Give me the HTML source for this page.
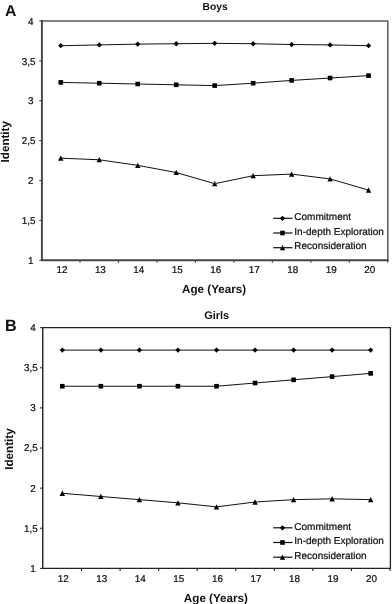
<!DOCTYPE html>
<html><head><meta charset="utf-8"><title>Chart</title>
<style>
html,body{margin:0;padding:0;background:#fff;}
svg{display:block;will-change:transform}
text{font-family:"Liberation Sans",sans-serif;fill:#111;text-rendering:geometricPrecision}
.t{font-size:9.9px;stroke:#111;stroke-width:0.22px}
.lg{font-size:10.02px;stroke:#111;stroke-width:0.22px}
.b{font-size:11.65px;font-weight:bold}
.bt{font-size:10.3px;font-weight:bold}
.L{font-size:15.8px;font-weight:bold}
</style></head><body>
<svg width="392" height="604" viewBox="0 0 392 604">
<rect width="392" height="604" fill="#fff"/>
<path d="M41.9,21.0H387.8V260.25" fill="none" stroke="#5a5a5a" stroke-width="1.5"/>
<path d="M41.9,20.05V260.25H388.55" fill="none" stroke="#444" stroke-width="1.9"/>
<line x1="39.3" y1="260.25" x2="41.9" y2="260.25" stroke="#444" stroke-width="1.1"/>
<text x="33.5" y="263.95" text-anchor="end" class="t">1</text>
<line x1="39.3" y1="220.375" x2="41.9" y2="220.375" stroke="#444" stroke-width="1.1"/>
<text x="35.6" y="224.07" text-anchor="end" class="t">1,5</text>
<line x1="39.3" y1="180.5" x2="41.9" y2="180.5" stroke="#444" stroke-width="1.1"/>
<text x="33.5" y="184.20" text-anchor="end" class="t">2</text>
<line x1="39.3" y1="140.625" x2="41.9" y2="140.625" stroke="#444" stroke-width="1.1"/>
<text x="35.6" y="144.32" text-anchor="end" class="t">2,5</text>
<line x1="39.3" y1="100.75" x2="41.9" y2="100.75" stroke="#444" stroke-width="1.1"/>
<text x="33.5" y="104.45" text-anchor="end" class="t">3</text>
<line x1="39.3" y1="60.875" x2="41.9" y2="60.875" stroke="#444" stroke-width="1.1"/>
<text x="35.6" y="64.58" text-anchor="end" class="t">3,5</text>
<line x1="39.3" y1="21.0" x2="41.9" y2="21.0" stroke="#444" stroke-width="1.1"/>
<text x="33.5" y="24.70" text-anchor="end" class="t">4</text>
<line x1="80.03" y1="260.25" x2="80.03" y2="262.85" stroke="#444" stroke-width="1.1"/>
<line x1="118.50" y1="260.25" x2="118.50" y2="262.85" stroke="#444" stroke-width="1.1"/>
<line x1="156.97" y1="260.25" x2="156.97" y2="262.85" stroke="#444" stroke-width="1.1"/>
<line x1="195.44" y1="260.25" x2="195.44" y2="262.85" stroke="#444" stroke-width="1.1"/>
<line x1="233.92" y1="260.25" x2="233.92" y2="262.85" stroke="#444" stroke-width="1.1"/>
<line x1="272.38" y1="260.25" x2="272.38" y2="262.85" stroke="#444" stroke-width="1.1"/>
<line x1="310.86" y1="260.25" x2="310.86" y2="262.85" stroke="#444" stroke-width="1.1"/>
<line x1="349.32" y1="260.25" x2="349.32" y2="262.85" stroke="#444" stroke-width="1.1"/>
<line x1="387.80" y1="260.25" x2="387.80" y2="262.85" stroke="#444" stroke-width="1.1"/>
<text x="61.90" y="273.45" text-anchor="middle" class="t">12</text>
<text x="100.37" y="273.45" text-anchor="middle" class="t">13</text>
<text x="138.84" y="273.45" text-anchor="middle" class="t">14</text>
<text x="177.31" y="273.45" text-anchor="middle" class="t">15</text>
<text x="215.78" y="273.45" text-anchor="middle" class="t">16</text>
<text x="254.25" y="273.45" text-anchor="middle" class="t">17</text>
<text x="292.72" y="273.45" text-anchor="middle" class="t">18</text>
<text x="331.19" y="273.45" text-anchor="middle" class="t">19</text>
<text x="369.66" y="273.45" text-anchor="middle" class="t">20</text>
<polyline points="60.80,45.72 99.27,44.92 137.74,44.13 176.21,43.73 214.68,43.33 253.15,43.73 291.62,44.53 330.09,44.92 368.56,45.72" fill="none" stroke="#111" stroke-width="1"/>
<path d="M60.80,43.07L63.45,45.72L60.80,48.37L58.15,45.72Z" fill="#000"/>
<path d="M99.27,42.27L101.92,44.92L99.27,47.57L96.62,44.92Z" fill="#000"/>
<path d="M137.74,41.48L140.39,44.13L137.74,46.78L135.09,44.13Z" fill="#000"/>
<path d="M176.21,41.08L178.86,43.73L176.21,46.38L173.56,43.73Z" fill="#000"/>
<path d="M214.68,40.68L217.33,43.33L214.68,45.98L212.03,43.33Z" fill="#000"/>
<path d="M253.15,41.08L255.80,43.73L253.15,46.38L250.50,43.73Z" fill="#000"/>
<path d="M291.62,41.88L294.27,44.53L291.62,47.18L288.97,44.53Z" fill="#000"/>
<path d="M330.09,42.27L332.74,44.92L330.09,47.57L327.44,44.92Z" fill="#000"/>
<path d="M368.56,43.07L371.21,45.72L368.56,48.37L365.91,45.72Z" fill="#000"/>
<polyline points="60.80,82.41 99.27,83.21 137.74,84.00 176.21,84.80 214.68,85.60 253.15,83.21 291.62,80.41 330.09,78.02 368.56,75.63" fill="none" stroke="#111" stroke-width="1"/>
<rect x="58.50" y="80.11" width="4.6" height="4.6" fill="#000"/>
<rect x="96.97" y="80.91" width="4.6" height="4.6" fill="#000"/>
<rect x="135.44" y="81.70" width="4.6" height="4.6" fill="#000"/>
<rect x="173.91" y="82.50" width="4.6" height="4.6" fill="#000"/>
<rect x="212.38" y="83.30" width="4.6" height="4.6" fill="#000"/>
<rect x="250.85" y="80.91" width="4.6" height="4.6" fill="#000"/>
<rect x="289.32" y="78.11" width="4.6" height="4.6" fill="#000"/>
<rect x="327.79" y="75.72" width="4.6" height="4.6" fill="#000"/>
<rect x="366.26" y="73.33" width="4.6" height="4.6" fill="#000"/>
<polyline points="60.80,158.17 99.27,159.77 137.74,165.35 176.21,172.52 214.68,183.69 253.15,175.71 291.62,174.12 330.09,178.91 368.56,190.07" fill="none" stroke="#111" stroke-width="1"/>
<path d="M60.80,155.47L63.50,160.77L58.10,160.77Z" fill="#000"/>
<path d="M99.27,157.07L101.97,162.37L96.57,162.37Z" fill="#000"/>
<path d="M137.74,162.65L140.44,167.95L135.04,167.95Z" fill="#000"/>
<path d="M176.21,169.82L178.91,175.12L173.51,175.12Z" fill="#000"/>
<path d="M214.68,180.99L217.38,186.29L211.98,186.29Z" fill="#000"/>
<path d="M253.15,173.01L255.85,178.31L250.45,178.31Z" fill="#000"/>
<path d="M291.62,171.42L294.32,176.72L288.92,176.72Z" fill="#000"/>
<path d="M330.09,176.21L332.79,181.50L327.39,181.50Z" fill="#000"/>
<path d="M368.56,187.37L371.26,192.67L365.86,192.67Z" fill="#000"/>
<text x="215.1" y="10.2" text-anchor="middle" class="bt" style="font-size:10.3px">Boys</text>
<text x="5.0" y="16" class="L" style="font-size:15.8px">A</text>
<text x="214.1" y="293.4" text-anchor="middle" class="b">Age (Years)</text>
<text transform="translate(9.3,141.75) rotate(-90)" text-anchor="middle" class="b">Identity</text>
<line x1="273.2" y1="218.3" x2="292.5" y2="218.3" stroke="#111" stroke-width="1.2"/>
<path d="M282.50,215.65L285.15,218.30L282.50,220.95L279.85,218.30Z" fill="#000"/>
<text x="294.3" y="220.30" class="lg">Commitment</text>
<line x1="273.2" y1="233.0" x2="292.5" y2="233.0" stroke="#111" stroke-width="1.2"/>
<rect x="280.20" y="230.70" width="4.6" height="4.6" fill="#000"/>
<text x="294.3" y="234.65" class="lg">In-depth Exploration</text>
<line x1="273.2" y1="247.70000000000002" x2="292.5" y2="247.70000000000002" stroke="#111" stroke-width="1.2"/>
<path d="M282.50,245.00L285.20,250.30L279.80,250.30Z" fill="#000"/>
<text x="294.3" y="249.00" class="lg">Reconsideration</text>
<path d="M42.75,327.65H390.4V568.4" fill="none" stroke="#222" stroke-width="1.3"/>
<path d="M42.75,326.95V568.4H391.04999999999995" fill="none" stroke="#222" stroke-width="1.4"/>
<line x1="40.15" y1="568.4" x2="42.75" y2="568.4" stroke="#222" stroke-width="1.1"/>
<text x="35.8" y="571.85" text-anchor="end" class="t">1</text>
<line x1="40.15" y1="528.275" x2="42.75" y2="528.275" stroke="#222" stroke-width="1.1"/>
<text x="37.7" y="531.73" text-anchor="end" class="t">1,5</text>
<line x1="40.15" y1="488.15" x2="42.75" y2="488.15" stroke="#222" stroke-width="1.1"/>
<text x="35.8" y="491.60" text-anchor="end" class="t">2</text>
<line x1="40.15" y1="448.025" x2="42.75" y2="448.025" stroke="#222" stroke-width="1.1"/>
<text x="37.7" y="451.47" text-anchor="end" class="t">2,5</text>
<line x1="40.15" y1="407.9" x2="42.75" y2="407.9" stroke="#222" stroke-width="1.1"/>
<text x="35.8" y="411.35" text-anchor="end" class="t">3</text>
<line x1="40.15" y1="367.775" x2="42.75" y2="367.775" stroke="#222" stroke-width="1.1"/>
<text x="37.7" y="371.22" text-anchor="end" class="t">3,5</text>
<line x1="40.15" y1="327.65" x2="42.75" y2="327.65" stroke="#222" stroke-width="1.1"/>
<text x="35.8" y="331.10" text-anchor="end" class="t">4</text>
<line x1="81.57" y1="568.4" x2="81.57" y2="571.0" stroke="#222" stroke-width="1.1"/>
<line x1="120.12" y1="568.4" x2="120.12" y2="571.0" stroke="#222" stroke-width="1.1"/>
<line x1="158.68" y1="568.4" x2="158.68" y2="571.0" stroke="#222" stroke-width="1.1"/>
<line x1="197.22" y1="568.4" x2="197.22" y2="571.0" stroke="#222" stroke-width="1.1"/>
<line x1="235.77" y1="568.4" x2="235.77" y2="571.0" stroke="#222" stroke-width="1.1"/>
<line x1="274.32" y1="568.4" x2="274.32" y2="571.0" stroke="#222" stroke-width="1.1"/>
<line x1="312.88" y1="568.4" x2="312.88" y2="571.0" stroke="#222" stroke-width="1.1"/>
<line x1="351.43" y1="568.4" x2="351.43" y2="571.0" stroke="#222" stroke-width="1.1"/>
<line x1="389.97" y1="568.4" x2="389.97" y2="571.0" stroke="#222" stroke-width="1.1"/>
<text x="63.20" y="581.9" text-anchor="middle" class="t">12</text>
<text x="101.75" y="581.9" text-anchor="middle" class="t">13</text>
<text x="140.30" y="581.9" text-anchor="middle" class="t">14</text>
<text x="178.85" y="581.9" text-anchor="middle" class="t">15</text>
<text x="217.40" y="581.9" text-anchor="middle" class="t">16</text>
<text x="255.95" y="581.9" text-anchor="middle" class="t">17</text>
<text x="294.50" y="581.9" text-anchor="middle" class="t">18</text>
<text x="333.05" y="581.9" text-anchor="middle" class="t">19</text>
<text x="371.60" y="581.9" text-anchor="middle" class="t">20</text>
<polyline points="62.30,350.12 100.85,350.12 139.40,350.12 177.95,350.12 216.50,350.12 255.05,350.12 293.60,350.12 332.15,350.12 370.70,350.12" fill="none" stroke="#111" stroke-width="1"/>
<path d="M62.30,347.47L64.95,350.12L62.30,352.77L59.65,350.12Z" fill="#000"/>
<path d="M100.85,347.47L103.50,350.12L100.85,352.77L98.20,350.12Z" fill="#000"/>
<path d="M139.40,347.47L142.05,350.12L139.40,352.77L136.75,350.12Z" fill="#000"/>
<path d="M177.95,347.47L180.60,350.12L177.95,352.77L175.30,350.12Z" fill="#000"/>
<path d="M216.50,347.47L219.15,350.12L216.50,352.77L213.85,350.12Z" fill="#000"/>
<path d="M255.05,347.47L257.70,350.12L255.05,352.77L252.40,350.12Z" fill="#000"/>
<path d="M293.60,347.47L296.25,350.12L293.60,352.77L290.95,350.12Z" fill="#000"/>
<path d="M332.15,347.47L334.80,350.12L332.15,352.77L329.50,350.12Z" fill="#000"/>
<path d="M370.70,347.47L373.35,350.12L370.70,352.77L368.05,350.12Z" fill="#000"/>
<polyline points="62.30,386.23 100.85,386.23 139.40,386.23 177.95,386.23 216.50,386.23 255.05,383.02 293.60,379.81 332.15,376.60 370.70,373.39" fill="none" stroke="#111" stroke-width="1"/>
<rect x="60.00" y="383.93" width="4.6" height="4.6" fill="#000"/>
<rect x="98.55" y="383.93" width="4.6" height="4.6" fill="#000"/>
<rect x="137.10" y="383.93" width="4.6" height="4.6" fill="#000"/>
<rect x="175.65" y="383.93" width="4.6" height="4.6" fill="#000"/>
<rect x="214.20" y="383.93" width="4.6" height="4.6" fill="#000"/>
<rect x="252.75" y="380.72" width="4.6" height="4.6" fill="#000"/>
<rect x="291.30" y="377.51" width="4.6" height="4.6" fill="#000"/>
<rect x="329.85" y="374.30" width="4.6" height="4.6" fill="#000"/>
<rect x="368.40" y="371.09" width="4.6" height="4.6" fill="#000"/>
<polyline points="62.30,493.29 100.85,496.50 139.40,499.63 177.95,502.84 216.50,506.85 255.05,502.03 293.60,499.63 332.15,498.82 370.70,499.63" fill="none" stroke="#111" stroke-width="1"/>
<path d="M62.30,490.59L65.00,495.89L59.60,495.89Z" fill="#000"/>
<path d="M100.85,493.80L103.55,499.10L98.15,499.10Z" fill="#000"/>
<path d="M139.40,496.93L142.10,502.23L136.70,502.23Z" fill="#000"/>
<path d="M177.95,500.14L180.65,505.44L175.25,505.44Z" fill="#000"/>
<path d="M216.50,504.15L219.20,509.45L213.80,509.45Z" fill="#000"/>
<path d="M255.05,499.33L257.75,504.63L252.35,504.63Z" fill="#000"/>
<path d="M293.60,496.93L296.30,502.23L290.90,502.23Z" fill="#000"/>
<path d="M332.15,496.12L334.85,501.42L329.45,501.42Z" fill="#000"/>
<path d="M370.70,496.93L373.40,502.23L368.00,502.23Z" fill="#000"/>
<text x="216.7" y="318.9" text-anchor="middle" class="bt" style="font-size:11.0px">Girls</text>
<text x="5.0" y="331.4" class="L" style="font-size:16.2px">B</text>
<text x="215.9" y="602.0" text-anchor="middle" class="b">Age (Years)</text>
<text transform="translate(13.2,449.1) rotate(-90)" text-anchor="middle" class="b">Identity</text>
<line x1="273.2" y1="527.8" x2="292.5" y2="527.8" stroke="#111" stroke-width="1.2"/>
<path d="M282.50,525.15L285.15,527.80L282.50,530.45L279.85,527.80Z" fill="#000"/>
<text x="294.3" y="529.75" class="lg">Commitment</text>
<line x1="273.2" y1="542.5" x2="292.5" y2="542.5" stroke="#111" stroke-width="1.2"/>
<rect x="280.20" y="540.20" width="4.6" height="4.6" fill="#000"/>
<text x="294.3" y="544.25" class="lg">In-depth Exploration</text>
<line x1="273.2" y1="557.1999999999999" x2="292.5" y2="557.1999999999999" stroke="#111" stroke-width="1.2"/>
<path d="M282.50,554.50L285.20,559.80L279.80,559.80Z" fill="#000"/>
<text x="294.3" y="558.75" class="lg">Reconsideration</text>
</svg>
</body></html>
